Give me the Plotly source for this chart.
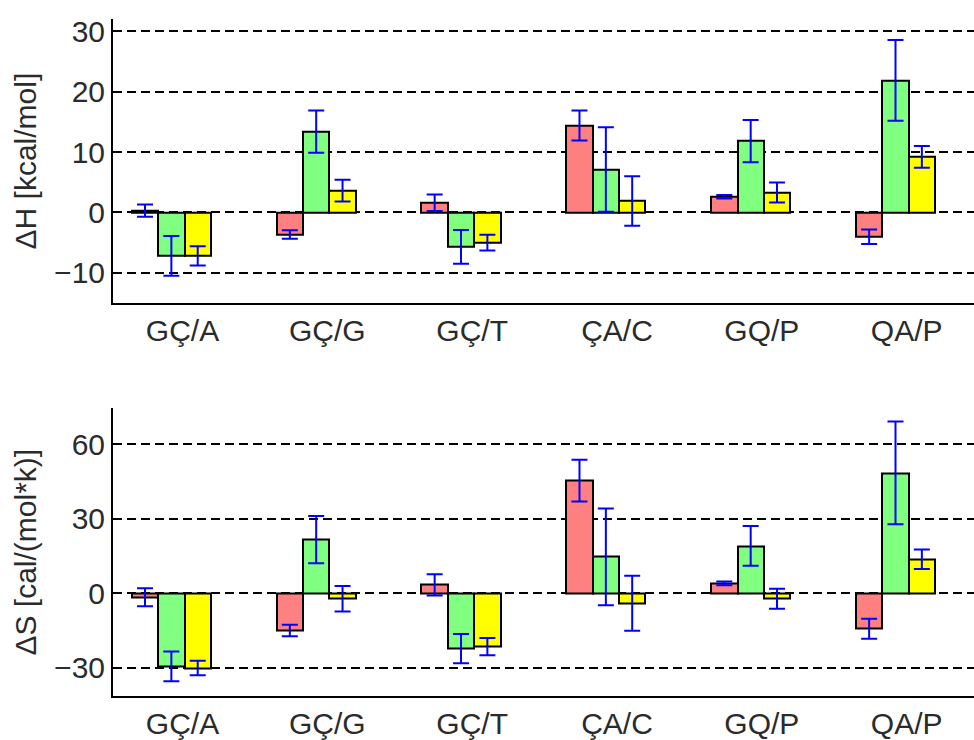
import plotly.graph_objects as go

categories = ["GÇ/A", "GÇ/G", "GÇ/T", "ÇA/C", "GQ/P", "QA/P"]
xpos = [1, 2, 3, 4, 5, 6]

dH_red = [0.3, -3.65, 1.6, 14.4, 2.6, -4.05]
dH_red_err = [1.0, 0.7, 1.35, 2.5, 0.3, 1.2]
dH_green = [-7.2, 13.4, -5.7, 7.1, 11.8, 21.9]
dH_green_err = [3.3, 3.5, 2.8, 7.0, 3.5, 6.7]
dH_yellow = [-7.2, 3.6, -5.0, 1.9, 3.3, 9.2]
dH_yellow_err = [1.6, 1.8, 1.3, 4.1, 1.65, 1.8]

dS_red = [-1.6, -15.0, 3.4, 45.4, 4.0, -14.3]
dS_red_err = [3.6, 2.3, 4.3, 8.4, 0.8, 4.0]
dS_green = [-29.4, 21.6, -22.3, 14.7, 19.1, 48.5]
dS_green_err = [6.0, 9.5, 5.9, 19.5, 8.0, 20.7]
dS_yellow = [-30.1, -2.2, -21.5, -4.0, -2.2, 13.7]
dS_yellow_err = [2.9, 5.1, 3.5, 11.1, 4.0, 3.9]

colors = ["#FF8080", "#80FF80", "#FFFF00"]
bw = 0.182
offsets = [-0.35, -0.35 + bw, -0.35 + 2 * bw]

fig = go.Figure()

def add_series(vals, errs, color, off, xa, ya):
    fig.add_trace(go.Bar(
        x=xpos, y=vals, width=bw, offset=off,
        marker=dict(color=color, line=dict(color="black", width=2)),
        error_y=dict(type="data", array=errs, visible=True, color="#0000FF",
                     thickness=2, width=8),
        xaxis=xa, yaxis=ya, showlegend=False,
    ))

for vals, errs, c, o in zip([dH_red, dH_green, dH_yellow],
                            [dH_red_err, dH_green_err, dH_yellow_err], colors, offsets):
    add_series(vals, errs, c, o, "x", "y")
for vals, errs, c, o in zip([dS_red, dS_green, dS_yellow],
                            [dS_red_err, dS_green_err, dS_yellow_err], colors, offsets):
    add_series(vals, errs, c, o, "x2", "y2")

font = dict(family="Liberation Sans, Arial, sans-serif", size=30, color="#2b2b2b")

xcommon = dict(range=[0.52, 6.465], tickvals=xpos, ticktext=categories,
               showgrid=False, zeroline=False, showline=True, linecolor="black",
               linewidth=2, ticks="", tickfont=font, fixedrange=True)
ycommon = dict(showgrid=True, gridcolor="black", griddash="9px,5px", gridwidth=1.5,
               zeroline=False, showline=True, linecolor="black", linewidth=2,
               ticks="inside", ticklen=5, tickwidth=2, tickcolor="black",
               tickfont=font, title_font=dict(family=font["family"], size=30, color="#2b2b2b"))

fig.update_layout(
    width=974, height=740,
    margin=dict(l=113, r=0, t=0, b=0),
    paper_bgcolor="white", plot_bgcolor="white",
    bargap=0, barmode="overlay",
    xaxis=dict(domain=[0, 1], anchor="y", **xcommon),
    yaxis=dict(domain=[1 - 304 / 740, 1 - 15 / 740], anchor="x", range=[-15.1, 32.1],
               tickvals=[-10, 0, 10, 20, 30], title=dict(text="ΔH [kcal/mol]", standoff=9),
               **ycommon),
    xaxis2=dict(domain=[0, 1], anchor="y2", **xcommon),
    yaxis2=dict(domain=[1 - 702.5 / 740, 1 - 410.5 / 740], anchor="x2", range=[-41.4, 74.5],
                tickvals=[-30, 0, 30, 60], title=dict(text="ΔS [cal/(mol*k)]", standoff=9),
                **ycommon),
)

fig.write_html("out.html")
